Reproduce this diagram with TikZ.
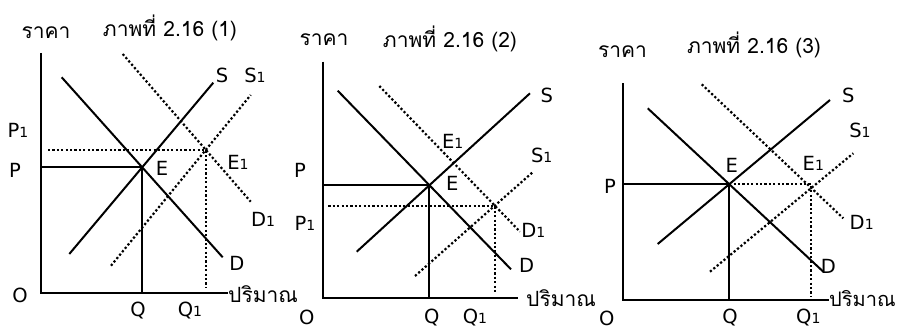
\documentclass[tikz,border=0pt]{standalone}
\usepackage{fontspec}
\setmainfont{DejaVu Sans}
\newfontfamily\thaifont[Script=Thai]{Loma}
\usetikzlibrary{intersections,calc}
\newcommand\sub[1]{{\fontsize{14}{14}\selectfont #1}}
\tikzset{
  axisline/.style={line width=2pt},
  curve/.style={line width=2pt},
  dotline/.style={line width=2.2pt, dash pattern=on 2.2pt off 2.2pt},
  lab/.style={inner sep=0pt, font=\fontsize{19.5}{19.5}\selectfont},
  thai/.style={inner sep=0pt, font=\thaifont\fontsize{21}{21}\selectfont},
}
\begin{document}
\begin{tikzpicture}[x=1pt,y=-1pt]
\useasboundingbox[fill=white] (0,0) rectangle (898,329);

% ================= Panel 1 =================
\coordinate (o1) at (40.7,293);
\coordinate (yt1) at (40.7,53);
\coordinate (xr1) at (228,293);
\draw[axisline] (yt1) -- (o1) -- (xr1);
\draw[curve, name path=d1] (61.7,77.3) -- (222.7,257.3);
\draw[curve, name path=s1] (69.3,254) -- (213.3,82.7);
\draw[dotline, name path=dd1] (122.7,54) -- (250.7,201.7);
\draw[dotline, name path=ss1] (111,265.7) -- (250.7,95);
\path[name intersections={of=d1 and s1, by=E1pt}];
\path[name intersections={of=dd1 and ss1, by=Ep1}];
\draw[curve] (o1 |- E1pt) -- (E1pt) -- (E1pt |- o1);
\coordinate (p1s) at (48,0 |- Ep1);
\draw[dotline] (p1s) -- (Ep1) -- (Ep1 |- 0,288);

\node[thai] (yl1) at (46,33) {ราคา};
\node[thai] (t1) at (170,28) {ภาพที่ 2.16 (1)};
\node[thai, anchor=west] (xl1) at (228,294) {ปริมาณ};
\node[lab] (O1) at (20,295) {O};
\node[lab] (Q1) at (138,311) {Q};
\node[lab] (Qa1) at (190,311) {Q\sub{1}};
\node[lab] (P1) at (15,170) {P};
\node[lab] (Pa1) at (18,130) {P\sub{1}};
\node[lab] (El1) at (162,168) {E};
\node[lab] (Ea1) at (238,162) {E\sub{1}};
\node[lab] (Da1) at (263,219) {D\sub{1}};
\node[lab] (Dl1) at (237,263) {D};
\node[lab] (Sl1) at (222,75) {S};
\node[lab] (Sa1) at (255,75) {S\sub{1}};

% ================= Panel 2 =================
\coordinate (o2) at (323.3,298.3);
\coordinate (yt2) at (323.3,61.7);
\coordinate (xr2) at (518.3,298.3);
\draw[axisline] (yt2) -- (o2) -- (xr2);
\draw[curve, name path=d2] (337.7,90.7) -- (511,269.3);
\draw[curve, name path=s2] (356.7,251.7) -- (530,93.3);
\draw[dotline, name path=dd2] (379.3,86) -- (520,231.7);
\draw[dotline, name path=ss2] (415,276) -- (533.3,171.7);
\path[name intersections={of=d2 and s2, by=E2pt}];
\path[name intersections={of=dd2 and ss2, by=Ep2}];
\draw[curve] (o2 |- E2pt) -- (E2pt) -- (E2pt |- o2);
\coordinate (p2s) at (328.3,0 |- Ep2);
\draw[dotline] (p2s) -- (Ep2) -- (Ep2 |- 0,293.3);

\node[thai] (yl2) at (324,39.3) {ราคา};
\node[thai] (t2) at (450,39.3) {ภาพที่ 2.16 (2)};
\node[thai, anchor=west] (xl2) at (526,298.3) {ปริมาณ};
\node[lab] (O2) at (306.7,317.5) {O};
\node[lab] (Q2) at (431.7,317.5) {Q};
\node[lab] (Qa2) at (475,317.5) {Q\sub{1}};
\node[lab] (P2) at (300,170) {P};
\node[lab] (Pa2) at (305,223) {P\sub{1}};
\node[lab] (El2) at (452.3,183.3) {E};
\node[lab] (Ea2) at (452.7,141.7) {E\sub{1}};
\node[lab] (Sa2) at (541.7,155) {S\sub{1}};
\node[lab] (Sl2) at (546.7,95) {S};
\node[lab] (Da2) at (533.3,230) {D\sub{1}};
\node[lab] (Dl2) at (526.7,265) {D};

% ================= Panel 3 =================
\coordinate (o3) at (623.3,300);
\coordinate (yt3) at (623.3,83.3);
\coordinate (xr3) at (829,300);
\draw[axisline] (yt3) -- (o3) -- (xr3);
\draw[curve, name path=d3] (647.7,108.3) -- (823.3,271.7);
\draw[curve, name path=s3] (657.7,244) -- (830,100);
\draw[dotline, name path=dd3] (701.7,84.3) -- (843.3,218.3);
\draw[dotline, name path=ss3] (710,271.7) -- (853.3,153.3);
\path[name intersections={of=d3 and s3, by=E3pt}];
\path[name intersections={of=dd3 and ss3, by=Ep3}];
\draw[curve] (o3 |- E3pt) -- (E3pt) -- (E3pt |- o3);
\draw[dotline] (E3pt) -- (Ep3 |- E3pt) -- (Ep3 |- 0,296.7);

\node[thai] (yl3) at (622.5,51.7) {ราคา};
\node[thai] (t3) at (754,45) {ภาพที่ 2.16 (3)};
\node[thai, anchor=west, font=\thaifont\fontsize{20}{20}\selectfont] (xl3) at (829,298.5) {ปริมาณ};
\node[lab] (O3) at (606.7,318) {O};
\node[lab] (Q3) at (730,317.5) {Q};
\node[lab] (Qa3) at (808.3,317.5) {Q\sub{1}};
\node[lab] (P3) at (610,186.7) {P};
\node[lab] (El3) at (731.7,165) {E};
\node[lab] (Ea3) at (813.3,163.3) {E\sub{1}};
\node[lab] (Sl3) at (848.3,95) {S};
\node[lab] (Sa3) at (860,130) {S\sub{1}};
\node[lab] (Da3) at (861.7,222.7) {D\sub{1}};
\node[lab] (Dl3) at (828.3,266.7) {D};
\end{tikzpicture}
\end{document}
